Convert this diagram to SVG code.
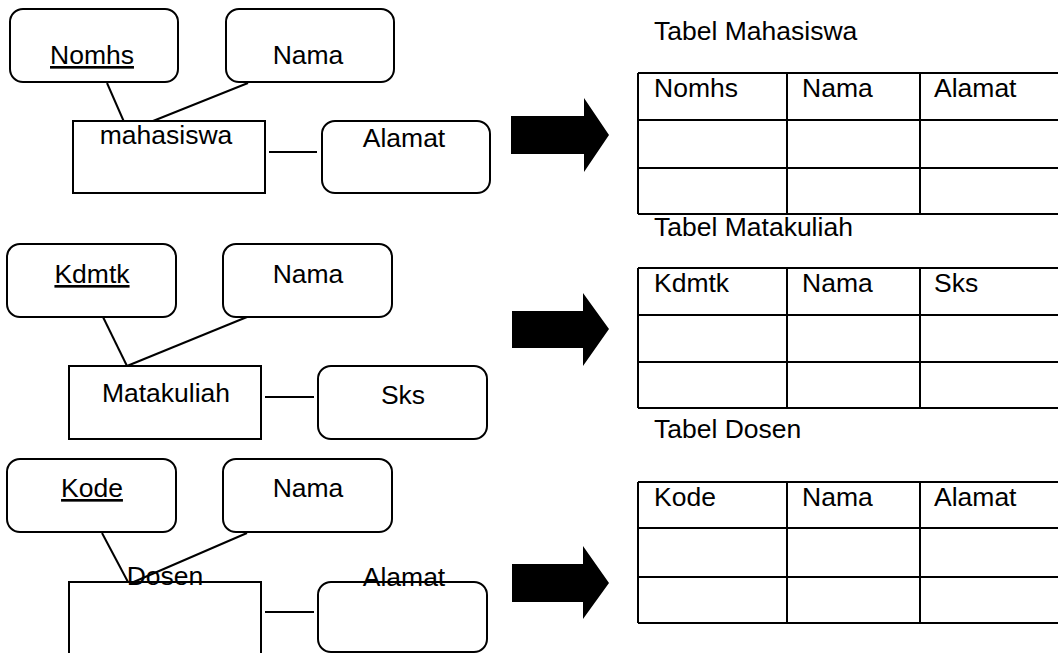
<svg xmlns="http://www.w3.org/2000/svg" width="1058" height="653" viewBox="0 0 1058 653">
<style>
  .attr { fill: #fff; stroke: #000; stroke-width: 2; }
  .ent { fill: #fff; stroke: #000; stroke-width: 2; }
  .t { font-family: "Liberation Sans", Arial, sans-serif; font-size: 26.5px; fill: #000; }
  .c { text-anchor: middle; }
  .u { text-decoration: underline; }
  .ln { stroke: #000; stroke-width: 2; fill: none; }
  .grid { stroke: #000; stroke-width: 2; fill: none; }
  .arrow { fill: #000; stroke: none; }
</style>
<rect width="1058" height="653" fill="#fff"/>

<!-- connectors -->
<g id="connectors">
  <line class="ln" x1="107" y1="83" x2="128" y2="131"/>
  <line class="ln" x1="248" y1="83" x2="128" y2="131"/>
  <line class="ln" x1="269" y1="152" x2="317" y2="152"/>
  <line class="ln" x1="103" y1="317" x2="127" y2="366"/>
  <line class="ln" x1="247" y1="317" x2="127" y2="366"/>
  <line class="ln" x1="265" y1="397" x2="314" y2="397"/>
  <line class="ln" x1="102" y1="533" x2="128" y2="582"/>
  <line class="ln" x1="247" y1="533" x2="129" y2="584"/>
  <line class="ln" x1="265" y1="612" x2="314" y2="612"/>
</g>

<!-- Row 1: mahasiswa -->
<g id="nomhs">
  <rect class="attr" x="10" y="9" width="168" height="73" rx="13"/>
  <text class="t c u" x="92" y="64">Nomhs</text>
</g>
<g id="nama1">
  <rect class="attr" x="226" y="9" width="168" height="73" rx="13"/>
  <text class="t c" x="308" y="64">Nama</text>
</g>
<g id="mahasiswa">
  <rect class="ent" x="73" y="121" width="192" height="72" fill="none"/>
  <text class="t c" x="166" y="144">mahasiswa</text>
</g>
<g id="alamat1">
  <rect class="attr" x="322" y="121" width="168" height="72" rx="13"/>
  <text class="t c" x="404" y="147">Alamat</text>
</g>

<!-- Row 2: matakuliah -->
<g id="kdmtk">
  <rect class="attr" x="7" y="244" width="169" height="73" rx="13"/>
  <text class="t c u" x="92" y="283">Kdmtk</text>
</g>
<g id="nama2">
  <rect class="attr" x="223" y="244" width="169" height="73" rx="13"/>
  <text class="t c" x="308" y="283">Nama</text>
</g>
<g id="matakuliah">
  <rect class="ent" x="69" y="366" width="192" height="73"/>
  <text class="t c" x="166" y="402">Matakuliah</text>
</g>
<g id="sks">
  <rect class="attr" x="318" y="366" width="169" height="73" rx="13"/>
  <text class="t c" x="403" y="404">Sks</text>
</g>

<!-- Row 3: dosen -->
<g id="kode">
  <rect class="attr" x="7" y="459" width="169" height="73" rx="13"/>
  <text class="t c u" x="92" y="497">Kode</text>
</g>
<g id="nama3">
  <rect class="attr" x="223" y="459" width="169" height="73" rx="13"/>
  <text class="t c" x="308" y="497">Nama</text>
</g>
<g id="dosen">
  <rect class="ent" x="69" y="582" width="192" height="80" fill="none"/>
  <text class="t c" x="165" y="585">Dosen</text>
</g>
<g id="alamat3">
  <rect class="attr" x="318" y="582" width="169" height="70" rx="13" fill="none"/>
  <text class="t c" x="404" y="586">Alamat</text>
</g>

<!-- Arrows -->
<g id="arrow1"><polygon class="arrow" points="511,116 584,116 584,98 609,135 584,172 584,154 511,154"/></g>
<g id="arrow2"><polygon class="arrow" points="512,311 583,311 583,293 609,329 583,366 583,348 512,348"/></g>
<g id="arrow3"><polygon class="arrow" points="512,564 583,564 583,546 609,583 583,619 583,602 512,602"/></g>

<!-- Tabel Mahasiswa -->
<g id="tabel-mahasiswa">
  <text class="t" x="654" y="40">Tabel Mahasiswa</text>
  <path class="grid" d="M638,73 H1060 M638,120 H1060 M638,168 H1060 M638,214 H1060 M638,73 V214 M787,73 V214 M920,73 V214"/>
  <text class="t" x="654" y="97">Nomhs</text>
  <text class="t" x="802" y="97">Nama</text>
  <text class="t" x="934" y="97">Alamat</text>
</g>

<!-- Tabel Matakuliah -->
<g id="tabel-matakuliah">
  <text class="t" x="654" y="236">Tabel Matakuliah</text>
  <path class="grid" d="M638,268 H1060 M638,315 H1060 M638,362 H1060 M638,408 H1060 M638,268 V408 M787,268 V408 M920,268 V408"/>
  <text class="t" x="654" y="292">Kdmtk</text>
  <text class="t" x="802" y="292">Nama</text>
  <text class="t" x="934" y="292">Sks</text>
</g>

<!-- Tabel Dosen -->
<g id="tabel-dosen">
  <text class="t" x="654" y="438">Tabel Dosen</text>
  <path class="grid" d="M638,482 H1060 M638,528 H1060 M638,577 H1060 M638,623 H1060 M638,482 V623 M787,482 V623 M920,482 V623"/>
  <text class="t" x="654" y="506">Kode</text>
  <text class="t" x="802" y="506">Nama</text>
  <text class="t" x="934" y="506">Alamat</text>
</g>
</svg>
